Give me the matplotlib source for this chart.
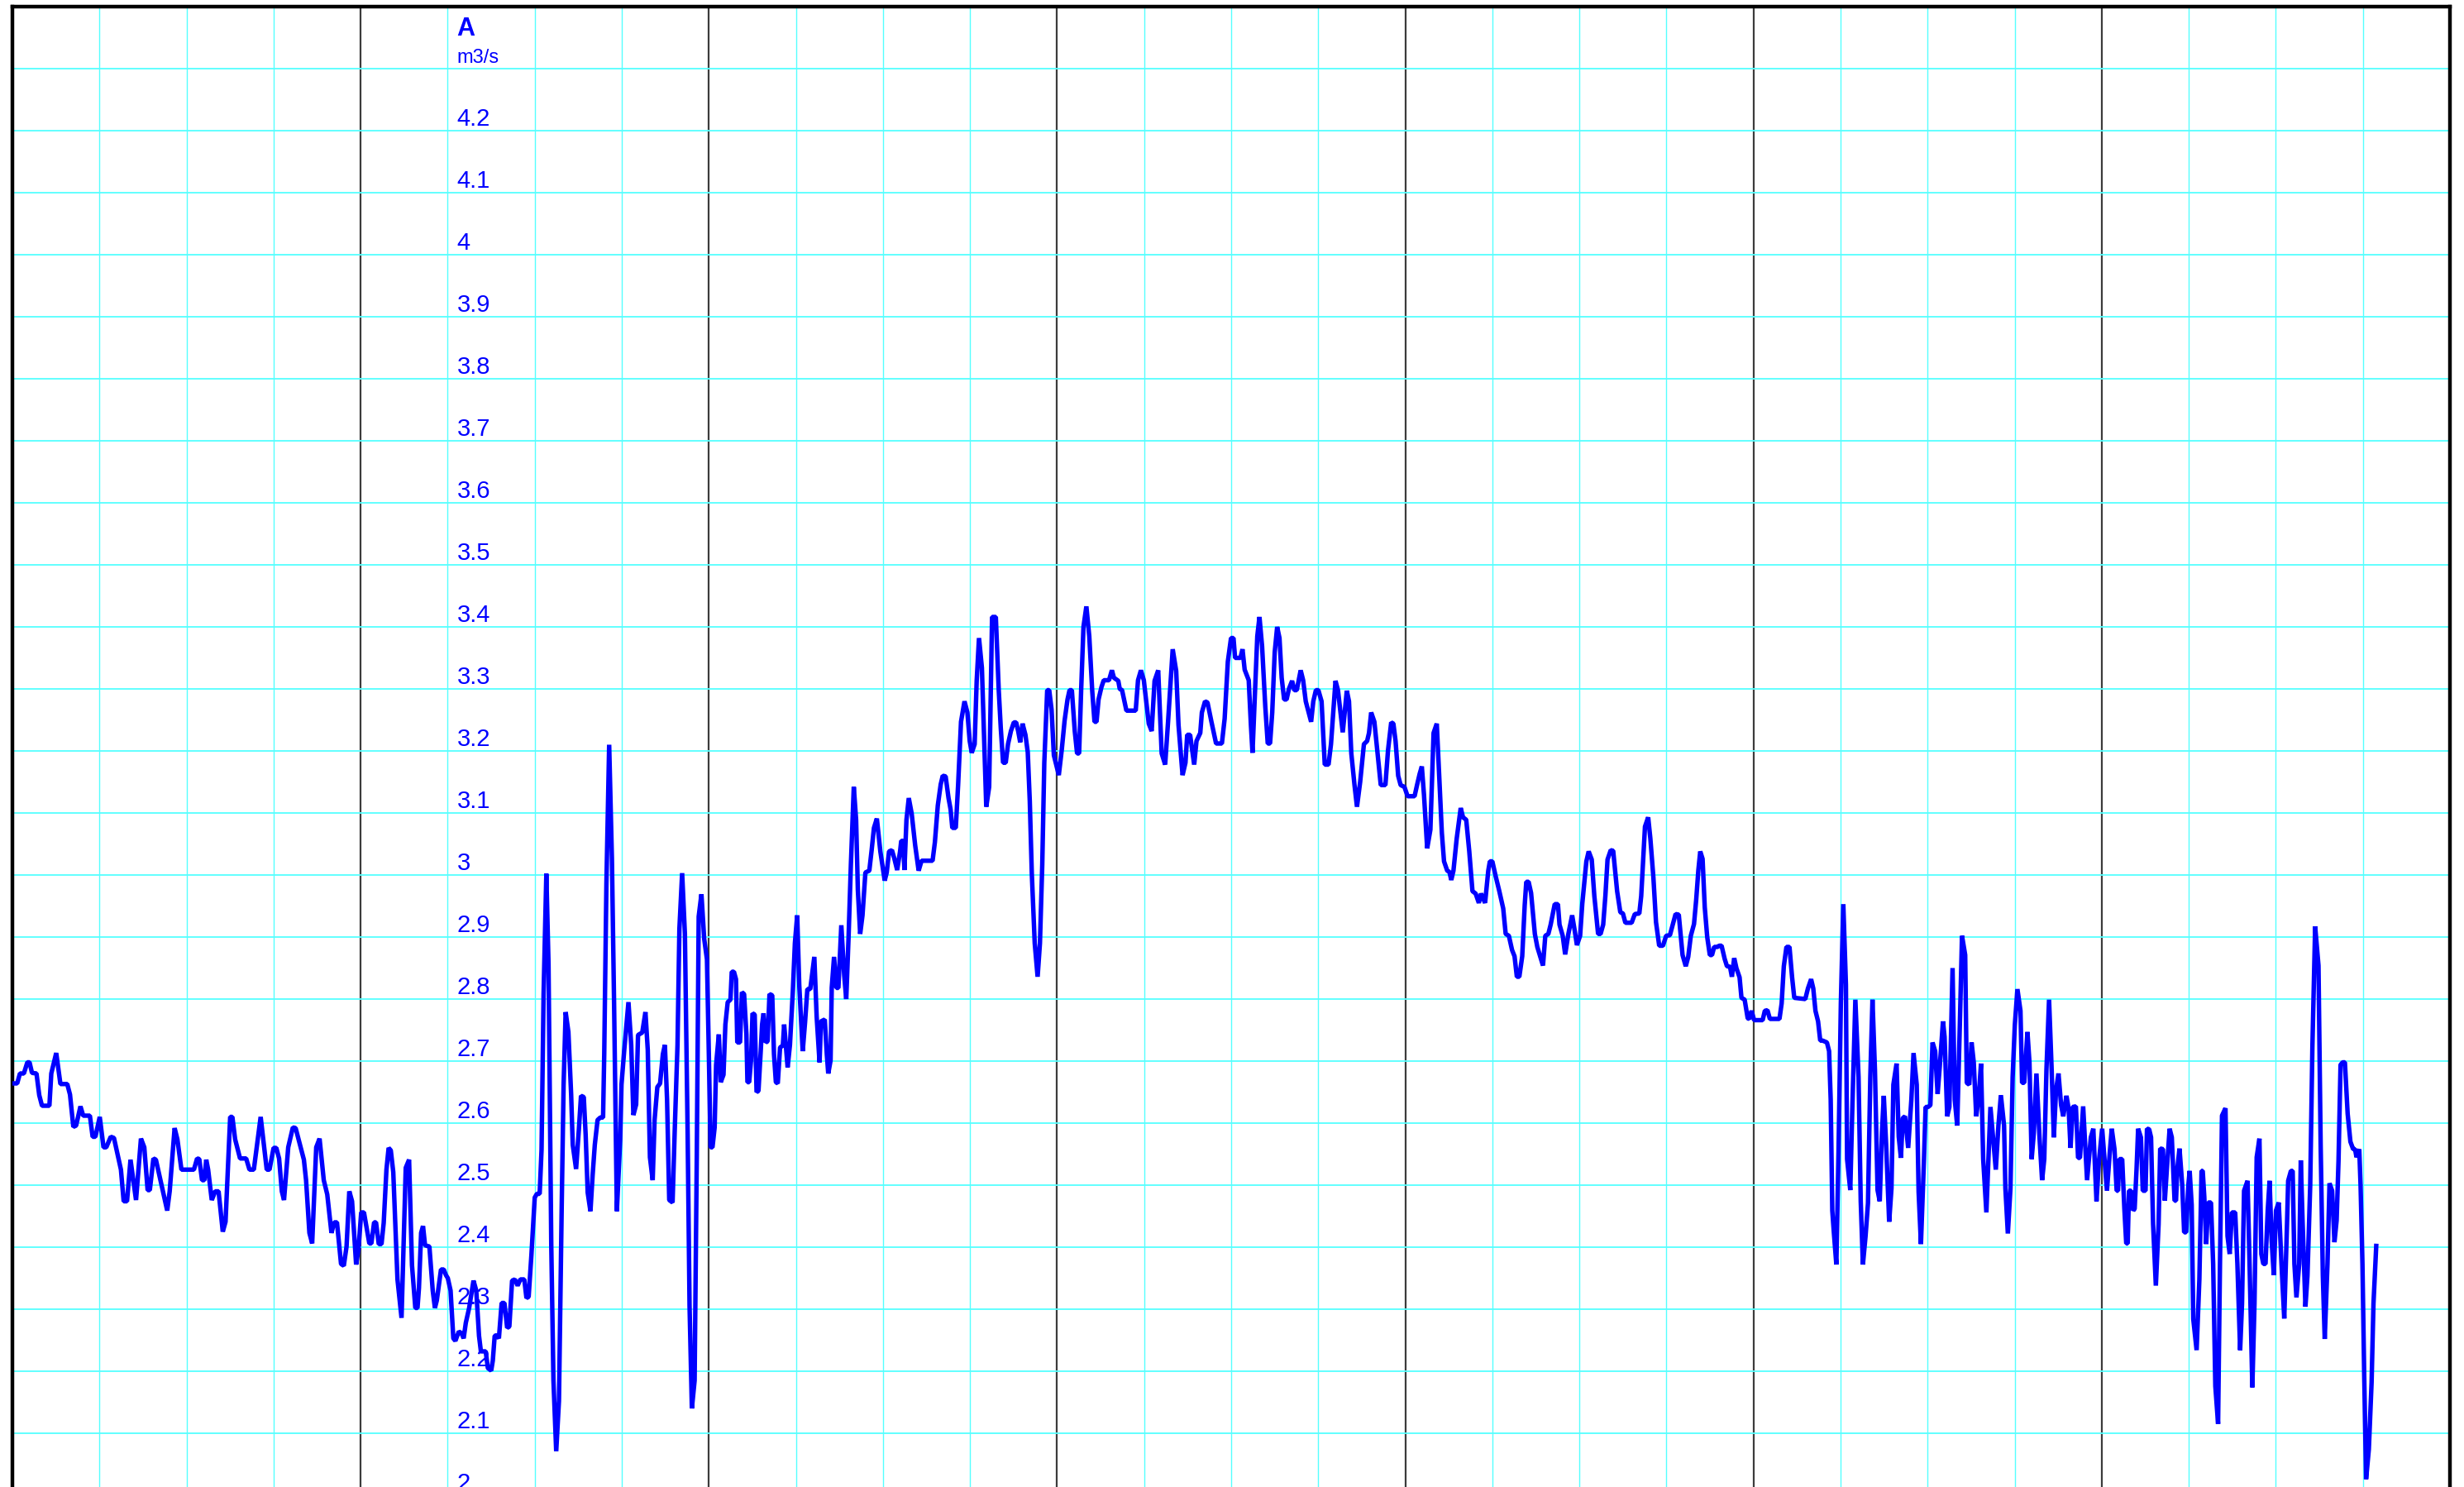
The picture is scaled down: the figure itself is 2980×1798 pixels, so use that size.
import matplotlib
matplotlib.use("Agg")
import matplotlib.pyplot as plt
import numpy as np

# flow readings, time in hours from the start of the week
hours = [
    0.08, 0.33, 0.52, 0.79, 1.03, 1.18, 1.35, 1.66, 1.85, 2.04, 2.55, 2.68, 3.02, 3.31, 3.78, 3.97,
    4.20, 4.39, 4.69, 4.88, 5.34, 5.53, 5.72, 6.02, 6.28, 6.47, 6.78, 7.00, 7.48, 7.67, 7.90, 8.14,
    8.52, 8.86, 9.09, 9.32, 9.47, 9.72, 9.89, 10.23, 10.67, 10.84, 11.18, 11.37, 11.65, 12.51, 12.73, 12.88,
    13.07, 13.23, 13.36, 13.49, 13.74, 13.98, 14.21, 14.50, 14.69, 15.01, 15.16, 15.35, 15.69, 16.11, 16.34, 16.64,
    17.11, 17.53, 17.72, 18.00, 18.19, 18.38, 18.57, 18.72, 19.01, 19.33, 19.52, 20.09, 20.24, 20.47, 20.66, 20.94,
    21.17, 21.46, 21.70, 21.99, 22.18, 22.37, 22.65, 22.84, 23.03, 23.22, 23.41, 23.69, 23.85, 24.04, 24.23, 24.60,
    24.74, 24.93, 25.06, 25.25, 25.44, 25.59, 25.78, 25.93, 26.08, 26.25, 26.54, 26.82, 27.11, 27.34,
    27.54, 27.77, 27.92, 28.02, 28.17, 28.30, 28.44, 28.74, 28.97, 29.12, 29.25, 29.54, 29.73, 29.88, 30.01, 30.20,
    30.39, 30.53, 30.77, 30.96, 31.10, 31.25, 31.48, 31.78, 31.97, 32.16, 32.29, 32.62, 32.77, 33.00, 33.11, 33.24,
    33.38, 33.53, 33.72, 33.91, 34.10, 34.25, 34.44, 34.63, 34.82, 35.01, 35.28, 35.43, 35.58, 35.77, 36.00, 36.15,
    36.34, 36.47, 36.61, 36.80, 36.95, 37.14, 37.29, 37.48, 37.67, 37.86, 37.99, 38.13, 38.32, 38.51, 38.62, 38.85,
    39.04, 39.19, 39.38, 39.51, 39.65, 39.84, 39.99, 40.14, 40.33, 40.52, 40.71, 40.79, 40.94, 41.13, 41.32, 41.47,
    41.66, 41.89, 41.98, 42.17, 42.46, 42.65, 42.80, 42.99, 43.12, 43.41, 43.63, 43.79, 43.94, 44.13, 44.26, 44.45,
    44.64, 44.83, 44.97, 45.12, 45.27, 45.50, 45.65, 45.84, 45.97, 46.16, 46.35, 46.54, 46.67, 46.83, 47.02, 47.17,
    47.30, 47.49, 47.68, 47.87, 48.00, 48.12, 48.25, 48.40, 48.50, 48.69, 48.82, 49.01, 49.14, 49.30, 49.49, 49.58,
    49.73, 49.87, 49.96, 50.15, 50.28, 50.43, 50.59, 50.66, 50.78, 50.91, 51.01, 51.16, 51.29, 51.42, 51.58, 51.67,
    51.77, 51.92, 52.05, 52.18, 52.37, 52.49, 52.62, 52.75, 52.91, 53.10, 53.19,
    53.43, 53.59, 53.79, 53.93, 54.09, 54.23, 54.47, 54.63, 54.79, 54.99, 55.27, 55.43, 55.63, 55.73, 55.99, 56.13,
    56.23, 56.39, 56.47, 56.63, 56.79, 56.93, 57.13, 57.33, 57.47, 57.63, 57.79, 57.99, 58.15, 58.27, 58.43, 58.59,
    58.79, 59.06, 59.22, 59.38, 59.58, 59.82, 60.12, 60.26, 60.42, 60.62, 60.78, 60.98, 61.18, 61.26, 61.38, 61.48,
    61.62, 61.78, 61.98, 62.22, 62.46, 62.66, 63.42, 63.58, 63.78, 63.98, 64.12, 64.32, 64.52, 64.66, 64.78, 65.02,
    65.18, 65.38, 65.62, 65.82, 65.98, 66.12, 66.32, 66.46, 66.62, 66.82, 66.98, 67.12, 67.32, 67.52, 67.78, 67.98,
    68.12, 68.28, 68.46, 68.62, 68.82, 69.02, 69.18, 69.32, 69.46, 69.62, 69.82, 69.98, 70.12, 70.26, 70.46, 70.66,
    70.82, 70.98, 71.12, 71.32, 71.46, 71.62, 71.78, 72.12, 72.32, 72.52, 72.72, 72.86, 73.02, 73.22, 73.38, 73.52,
    73.66, 73.82, 74.02, 74.22, 74.42, 74.58, 74.72, 74.86, 75.06, 75.22, 75.58, 75.78, 75.92, 76.22, 76.32, 76.48,
    76.78, 77.42, 77.58, 77.78, 77.98, 78.32, 78.52, 78.72, 78.97, 79.21, 79.45, 79.65, 79.97, 80.21, 80.37, 80.65,
    80.85, 80.97, 81.17, 81.45, 81.61,
    81.87, 81.98, 82.20, 82.37, 82.64, 82.96, 83.36, 83.55, 83.77, 83.99, 84.16, 84.27, 84.64, 84.78, 84.93, 85.21,
    85.36, 85.47, 85.80, 85.95, 86.13, 86.35, 86.52, 86.68, 86.83, 87.00, 87.17, 87.33, 87.48, 87.65, 87.82, 87.98,
    88.20, 88.35, 88.52, 88.79, 88.96, 89.14, 89.51, 89.66, 89.84, 90.01, 90.23, 90.45, 90.71, 90.88, 91.19, 91.36,
    91.69, 91.97, 92.12, 92.28, 92.50, 92.67, 92.89, 93.15, 93.37, 93.50, 93.65, 93.87, 94.09, 94.31, 94.63, 94.81,
    95.03, 95.18, 95.33, 95.51, 95.68, 95.94, 96.16, 96.64, 96.81, 96.99, 97.14, 97.29, 97.51, 97.73, 97.95, 98.17,
    98.34, 98.52, 98.67, 98.89, 99.04, 99.17, 99.32, 99.54, 99.82, 99.98, 100.20, 100.41, 100.63, 100.85, 101.07, 101.22,
    101.50, 101.72, 101.83, 102.00, 102.22, 102.48, 102.75, 102.92, 103.14, 103.36, 103.53, 103.69, 103.86, 104.06, 104.23, 104.34,
    104.50, 104.67, 104.93, 105.10, 105.49, 105.65, 105.86, 106.02, 106.30, 106.52, 106.63, 106.85, 107.02, 107.24, 107.50, 107.68,
    107.83, 108.05, 108.20, 108.48, 108.64, 108.85, 109.03, 109.29, 109.46, 109.64, 109.79, 109.94, 110.16, 110.33, 110.60, 110.82,
    111.00, 111.17, 111.60, 111.82, 112.13, 112.26, 112.52, 112.74,
    112.89, 113.10, 113.28, 113.50, 113.76, 113.98, 114.24, 114.41, 114.63, 114.85, 115.11, 115.33, 115.50, 115.68, 115.90, 116.05,
    116.20, 116.33, 116.49, 116.64, 116.81, 116.99, 117.14, 117.29, 117.51, 117.64, 117.80, 118.01, 118.17, 118.38, 118.51, 118.67,
    118.82, 119.04, 119.17, 119.39, 119.60, 119.70, 119.87, 120.04, 120.63, 120.78, 120.96, 121.13, 121.79, 121.94, 122.09, 122.27,
    122.48, 122.66, 122.81, 123.57, 123.75, 123.97, 124.12, 124.27, 124.45, 124.60, 124.77, 125.06, 125.21, 125.32, 125.43, 125.54,
    125.71, 125.86, 126.02, 126.19, 126.37, 126.45, 126.67, 126.80, 127.02, 127.24, 127.39, 127.54, 127.72, 127.89, 128.05, 128.20,
    128.37, 128.55, 128.70, 128.85, 128.98, 129.14, 129.35, 129.51, 129.64, 129.86, 130.01, 130.16, 130.29, 130.44, 130.66, 130.88,
    131.03, 131.25, 131.38, 131.54, 131.75, 131.86, 132.03, 132.19, 132.34, 132.52, 132.69, 132.84, 133.06, 133.17, 133.35, 133.50,
    133.72, 133.87, 134.04, 134.22, 134.37, 134.59, 134.70, 134.87, 135.03, 135.18, 135.35, 135.53, 135.68, 135.83, 136.05, 136.22,
    136.33, 136.55, 136.70, 136.88, 137.05, 137.27, 137.36, 137.53, 137.71, 137.86, 138.01, 138.19, 138.40, 138.51, 138.66, 138.88,
    139.02, 139.17, 139.32, 139.50, 139.71, 139.89, 140.04, 140.19, 140.37, 140.54, 140.70, 140.85, 141.02, 141.20, 141.35, 141.57,
    141.72, 141.85, 142.00, 142.22, 142.37, 142.50, 142.72, 142.99, 143.25, 143.42, 143.64, 143.81, 144.03,
    144.36, 144.55, 144.69, 144.88, 145.03, 145.12, 145.22, 145.41, 145.56, 145.69, 145.79, 145.88, 146.02, 146.17, 146.27, 146.40,
    146.51, 146.70, 146.83, 147.02, 147.12, 147.27, 147.40, 147.54, 147.73, 147.92, 148.03, 148.22, 148.35, 148.49, 148.68, 148.83,
    149.02, 149.12, 149.21, 149.36, 149.55, 149.68, 149.82, 149.97, 150.06, 150.20, 150.31, 150.54, 150.73, 150.88, 150.96, 151.07,
    151.20, 151.34, 151.53, 151.68, 151.83, 152.02, 152.15, 152.29, 152.53, 152.67, 152.82, 152.97, 153.20, 153.35, 153.54, 153.67,
    153.81, 154.05, 154.19, 154.38, 154.53, 154.68, 154.87, 155.00, 155.14, 155.29, 155.44, 155.57, 155.71, 155.86, 156.01, 156.20,
    156.39, 156.58, 156.77, 156.85, 157.04, 157.16, 157.28, 157.42, 157.61, 157.72, 157.85, 158.04, 158.18, 158.37, 158.52, 158.71,
    158.94, 159.09, 159.24, 159.37, 159.56, 159.70, 159.88, 160.04, 160.19, 160.32, 160.46, 160.61, 160.76, 160.95, 161.14, 161.33,
    161.46, 161.56, 161.75, 161.84, 161.97, 162.09, 162.22, 162.41, 162.60, 162.73, 162.92,
]

flow = [
    2.664, 2.664, 2.680, 2.680, 2.698, 2.698, 2.681, 2.680, 2.645, 2.628, 2.628, 2.680, 2.713, 2.663, 2.663, 2.646,
    2.594, 2.596, 2.627, 2.612, 2.612, 2.578, 2.578, 2.610, 2.561, 2.561, 2.578, 2.576, 2.525, 2.474, 2.474, 2.541,
    2.476, 2.575, 2.561, 2.492, 2.492, 2.543, 2.541, 2.505, 2.459, 2.490, 2.592, 2.574, 2.525, 2.525, 2.543, 2.542,
    2.508, 2.508, 2.541, 2.525, 2.476, 2.490, 2.490, 2.425, 2.441, 2.610, 2.610, 2.574, 2.543, 2.543, 2.525, 2.525,
    2.610, 2.525, 2.525, 2.560, 2.560, 2.543, 2.490, 2.476, 2.561, 2.593, 2.592, 2.541, 2.508, 2.423, 2.406, 2.561,
    2.575, 2.508, 2.485, 2.423, 2.440, 2.440, 2.373, 2.370, 2.401, 2.490, 2.474, 2.372, 2.396, 2.456, 2.456, 2.406,
    2.406, 2.440, 2.440, 2.405, 2.405, 2.439, 2.525, 2.560, 2.556, 2.521, 2.348, 2.286, 2.528, 2.541,
    2.371, 2.302, 2.302, 2.334, 2.423, 2.434, 2.403, 2.401, 2.330, 2.302, 2.314, 2.364, 2.364, 2.355, 2.350, 2.330,
    2.253, 2.249, 2.264, 2.261, 2.253, 2.278, 2.302, 2.346, 2.330, 2.257, 2.232, 2.232, 2.205, 2.201, 2.217, 2.257,
    2.258, 2.253, 2.310, 2.310, 2.270, 2.272, 2.346, 2.348, 2.338, 2.348, 2.348, 2.318, 2.320, 2.387, 2.480, 2.486,
    2.486, 2.557, 2.808, 3.002, 2.856, 2.403, 2.185, 2.071, 2.152, 2.468, 2.662, 2.779, 2.747, 2.646, 2.565, 2.526,
    2.589, 2.644, 2.642, 2.581, 2.488, 2.458, 2.516, 2.565, 2.605, 2.609, 2.609, 2.711, 2.986, 3.210, 3.026, 2.791,
    2.458, 2.573, 2.662, 2.718, 2.795, 2.726, 2.613, 2.630, 2.742, 2.746, 2.779, 2.718, 2.545, 2.508, 2.605, 2.658,
    2.664, 2.711, 2.726, 2.638, 2.476, 2.472, 2.589, 2.726, 2.913, 3.003, 2.905, 2.581, 2.306, 2.140, 2.185, 2.549,
    2.933, 2.969, 2.897, 2.864, 2.711, 2.561, 2.561, 2.593, 2.694, 2.743, 2.666, 2.678, 2.759, 2.795, 2.799, 2.844,
    2.844, 2.832, 2.730, 2.730, 2.811, 2.808, 2.743, 2.666, 2.666, 2.702, 2.777, 2.775, 2.650, 2.652, 2.718, 2.759,
    2.777, 2.730, 2.732, 2.808, 2.806, 2.711, 2.666, 2.664, 2.722, 2.725, 2.759,
    2.690, 2.726, 2.813, 2.890, 2.935, 2.823, 2.716, 2.762, 2.816, 2.816, 2.868, 2.772, 2.698, 2.764, 2.767, 2.711,
    2.680, 2.701, 2.818, 2.868, 2.818, 2.818, 2.919, 2.838, 2.800, 2.900, 3.017, 3.142, 3.089, 2.976, 2.905, 2.935,
    3.004, 3.007, 3.040, 3.076, 3.091, 3.038, 2.991, 3.004, 3.038, 3.040, 3.027, 3.008, 3.038, 3.055, 3.055, 3.008,
    3.089, 3.124, 3.099, 3.048, 3.007, 3.023, 3.023, 3.053, 3.112, 3.146, 3.160, 3.159, 3.124, 3.106, 3.076, 3.076,
    3.145, 3.247, 3.280, 3.262, 3.216, 3.197, 3.211, 3.313, 3.382, 3.334, 3.216, 3.110, 3.142, 3.416, 3.416, 3.298,
    3.237, 3.181, 3.181, 3.211, 3.232, 3.246, 3.246, 3.232, 3.214, 3.244, 3.226, 3.198, 3.119, 3.002, 2.890, 2.836,
    2.890, 3.017, 3.181, 3.298, 3.298, 3.267, 3.193, 3.161, 3.201, 3.249, 3.283, 3.298, 3.298, 3.232, 3.196, 3.196,
    3.298, 3.400, 3.433, 3.385, 3.298, 3.247, 3.247, 3.283, 3.303, 3.314, 3.314, 3.330, 3.318, 3.313, 3.300, 3.298,
    3.265, 3.265, 3.314, 3.330, 3.314, 3.244, 3.232, 3.313, 3.330, 3.196, 3.178, 3.247, 3.364, 3.329, 3.242, 3.161,
    3.181, 3.226, 3.226, 3.178, 3.216,
    3.229, 3.262, 3.280, 3.278, 3.247, 3.212, 3.212, 3.252, 3.344, 3.382, 3.382, 3.350, 3.350, 3.364, 3.331, 3.314,
    3.242, 3.197, 3.385, 3.416, 3.369, 3.272, 3.212, 3.212, 3.262, 3.359, 3.400, 3.382, 3.318, 3.283, 3.283, 3.300,
    3.313, 3.298, 3.298, 3.330, 3.314, 3.280, 3.247, 3.280, 3.298, 3.298, 3.280, 3.178, 3.178, 3.211, 3.313, 3.298,
    3.230, 3.297, 3.280, 3.196, 3.145, 3.110, 3.150, 3.211, 3.216, 3.229, 3.262, 3.247, 3.196, 3.145, 3.145, 3.201,
    3.246, 3.244, 3.216, 3.160, 3.145, 3.142, 3.127, 3.127, 3.145, 3.163, 3.175, 3.129, 3.043, 3.073, 3.229, 3.244,
    3.160, 3.068, 3.022, 3.007, 3.005, 2.992, 3.007, 3.058, 3.108, 3.093, 3.089, 3.038, 2.974, 2.970, 2.955, 2.970,
    2.955, 3.007, 3.022, 3.022, 2.999, 2.974, 2.946, 2.905, 2.902, 2.879, 2.869, 2.836, 2.836, 2.869, 2.951, 2.989,
    2.989, 2.971, 2.905, 2.884, 2.854, 2.902, 2.905, 2.920, 2.953, 2.953, 2.920, 2.902, 2.872, 2.905, 2.935, 2.910,
    2.887, 2.902, 2.954, 3.022, 3.038, 3.025, 2.966, 2.905, 2.905, 2.920, 2.966, 3.025, 3.040, 3.039, 2.974, 2.940,
    2.938, 2.923, 2.923, 2.937, 2.938, 2.966, 3.078, 3.093,
    3.059, 2.996, 2.924, 2.886, 2.886, 2.902, 2.903, 2.918, 2.937, 2.936, 2.871, 2.853, 2.868, 2.902, 2.921, 2.960,
    3.008, 3.038, 3.026, 2.948, 2.900, 2.871, 2.871, 2.884, 2.884, 2.886, 2.886, 2.865, 2.853, 2.852, 2.836, 2.866,
    2.850, 2.835, 2.802, 2.799, 2.769, 2.768, 2.781, 2.766, 2.766, 2.781, 2.782, 2.768, 2.768, 2.793, 2.853, 2.884,
    2.884, 2.835, 2.802, 2.800, 2.817, 2.832, 2.817, 2.781, 2.764, 2.733, 2.733, 2.730, 2.716, 2.638, 2.459, 2.423,
    2.372, 2.554, 2.793, 2.953, 2.823, 2.542, 2.492, 2.614, 2.799, 2.674, 2.474, 2.372, 2.417, 2.471, 2.674, 2.799,
    2.686, 2.492, 2.474, 2.584, 2.644, 2.566, 2.441, 2.495, 2.662, 2.696, 2.578, 2.544, 2.608, 2.611, 2.560, 2.638,
    2.713, 2.662, 2.489, 2.405, 2.542, 2.626, 2.626, 2.629, 2.730, 2.716, 2.647, 2.692, 2.764, 2.739, 2.611, 2.626,
    2.850, 2.638, 2.596, 2.758, 2.902, 2.871, 2.665, 2.662, 2.730, 2.698, 2.611, 2.644, 2.696, 2.542, 2.456, 2.560,
    2.626, 2.566, 2.525, 2.596, 2.645, 2.596, 2.495, 2.422, 2.495, 2.674, 2.758, 2.816, 2.781, 2.665, 2.665, 2.747,
    2.698, 2.542, 2.584, 2.680, 2.578, 2.508, 2.542, 2.686, 2.799, 2.692, 2.577, 2.653, 2.680, 2.629, 2.611, 2.644,
    2.623, 2.560, 2.626, 2.627, 2.544, 2.544, 2.627, 2.508, 2.577, 2.591, 2.474, 2.539, 2.591,
    2.491, 2.551, 2.591, 2.558, 2.491, 2.491, 2.542, 2.542, 2.462, 2.406, 2.406, 2.491, 2.491, 2.459, 2.462, 2.526,
    2.591, 2.577, 2.491, 2.491, 2.591, 2.590, 2.577, 2.437, 2.338, 2.437, 2.559, 2.558, 2.475, 2.526, 2.591, 2.577,
    2.475, 2.475, 2.526, 2.559, 2.500, 2.424, 2.424, 2.500, 2.523, 2.468, 2.284, 2.234, 2.348, 2.523, 2.523, 2.481,
    2.405, 2.472, 2.472, 2.373, 2.176, 2.115, 2.373, 2.612, 2.624, 2.418, 2.389, 2.456, 2.456, 2.373, 2.234, 2.309,
    2.491, 2.507, 2.373, 2.174, 2.309, 2.545, 2.575, 2.389, 2.373, 2.373, 2.459, 2.507, 2.411, 2.355, 2.459, 2.472,
    2.373, 2.285, 2.437, 2.507, 2.523, 2.523, 2.373, 2.319, 2.373, 2.540, 2.437, 2.304, 2.354, 2.500, 2.723, 2.917,
    2.854, 2.564, 2.354, 2.252, 2.373, 2.503, 2.491, 2.408, 2.443, 2.539, 2.694, 2.698, 2.698, 2.615, 2.570, 2.558,
    2.558, 2.545, 2.558, 2.500, 2.373, 2.195, 2.026, 2.074, 2.182, 2.309, 2.402,
]

# axis label values drawn inside the chart (2 .. 4.2)
label_values = [round(2.0 + 0.1 * i, 1) for i in range(23)]
series_name = 'A'
unit = 'm3/s'

GRID_CYAN = '#55ffff'
BLUE = '#0000ff'


def draw_chart():
    fig = plt.figure(figsize=(29.8, 17.98), dpi=100)
    ax = fig.add_axes([15 / 2980, -10 / 1798, 2948 / 2980, 1800 / 1798])

    ax.set_xlim(0, 168)
    ax.set_ylim(2.0, 4.4)

    # grid: cyan every 6 h and every 0.1, dark lines at each day
    ax.set_xticks(np.arange(0, 169, 24))
    ax.set_xticks(np.arange(0, 169, 6), minor=True)
    ax.set_yticks(np.arange(2.0, 4.41, 0.1))
    ax.grid(which='minor', axis='x', color=GRID_CYAN, linewidth=1.0, zorder=0)
    ax.grid(which='major', axis='x', color='#3c3c3c', linewidth=1.6, zorder=1)
    ax.grid(which='major', axis='y', color=GRID_CYAN, linewidth=1.3, zorder=0)
    ax.set_axisbelow(True)
    ax.tick_params(which='both', length=0, labelleft=False, labelbottom=False)

    for side in ['left', 'right', 'top']:
        ax.spines[side].set_color('black')
        ax.spines[side].set_linewidth(3.2)
    ax.spines['bottom'].set_visible(False)

    # value labels next to the 30 h line
    for v in label_values:
        ax.annotate(f'{v:g}', xy=(30, v), xytext=(8, 4.3), textcoords='offset points',
                    color=BLUE, fontsize=21, family='Liberation Sans',
                    ha='left', va='baseline', annotation_clip=False, zorder=2)
    ax.annotate(series_name, xy=(30, 4.3), xytext=(8, 28.8), textcoords='offset points',
                color=BLUE, fontsize=22, fontweight='bold', family='Liberation Sans',
                ha='left', va='baseline', zorder=2)
    ax.annotate(unit, xy=(30, 4.3), xytext=(8, 5.0), textcoords='offset points',
                color=BLUE, fontsize=17, family='Liberation Sans',
                ha='left', va='baseline', zorder=2)

    ax.plot(hours, flow, color=BLUE, linewidth=3.9, solid_joinstyle='bevel', zorder=3)

    fig.savefig('out.png', dpi=100)


if __name__ == '__main__':
    draw_chart()
